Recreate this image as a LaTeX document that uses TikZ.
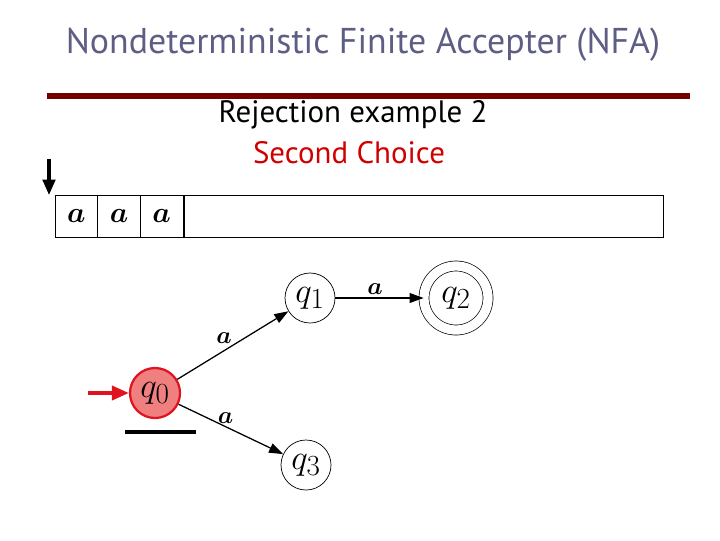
\documentclass[tikz,border=0pt]{standalone}
\usepackage{fontspec}
\usepackage{amsmath, amssymb}
\usepackage{bm}
\usetikzlibrary{arrows.meta, positioning, calc}
\newfontfamily\slidefont{PT Sans}
\definecolor{titlec}{HTML}{5E5E85}
\definecolor{rulec}{HTML}{750000}
\definecolor{choicec}{HTML}{D00000}
\definecolor{startc}{HTML}{F08080}
\definecolor{arrowc}{HTML}{E0141E}

\begin{document}
\begin{tikzpicture}[x=0.025cm, y=-0.025cm, >={Triangle[length=10pt, width=7pt]},
          state/.style={circle, draw, line width=0.5pt, inner sep=0pt,
            minimum size=1.25cm, font=\fontsize{30}{32}\selectfont},
          cell/.style={draw, line width=0.6pt, minimum height=1.05cm, inner sep=0pt,
            font=\fontsize{21}{22}\selectfont},
          edge/.style={->, line width=0.9pt},
          sym/.style={font=\fontsize{17}{17}\selectfont, inner sep=2pt}]
        \useasboundingbox (0,0) rectangle (720,540);
        % heading
        \node[titlec, font=\slidefont\fontsize{25.5}{28}\selectfont] (title) at (363,45)
          {Nondeterministic Finite Accepter (NFA)};
        \draw[rulec, line width=3.6pt] (47,96) -- (690,96);
        \node[font=\slidefont\fontsize{22}{24}\selectfont] (sub) at (353,115)
          {Rejection example 2};
        \node[choicec, font=\slidefont\fontsize{22}{24}\selectfont] (choice) at (349,153)
          {Second Choice};
        % input tape
        \foreach \i in {1,2,3}{
          \node[cell, minimum width=1.07cm] (c\i) at ({55+42.67*(\i-0.5)},216)
            {$\bm{a}$};
        }
        \node[cell, minimum width=11.98cm, anchor=west] (rest) at (c3.east) {};
        \coordinate (headtop) at (49,159);
        \coordinate (headtip) at (49,195);
        \draw[->, line width=2.2pt, >={Triangle[length=11pt, width=9pt]}]
          (headtop) -- (headtip);
        % automaton
        \node[state, fill=startc, draw=arrowc, line width=1.6pt] (q0) at (155,393) {$q_0$};
        \node[state] (q1) at (310,298) {$q_1$};
        \node[state, minimum size=1.6cm, double, double distance=6.6pt] (q2) at (456,298) {$q_2$};
        \node[state] (q3) at (306,465) {$q_3$};
        \coordinate (start) at (88,393);
        \draw[->, arrowc, line width=2.4pt, >={Triangle[length=12pt, width=10pt]}]
          (start) -- (q0);
        \draw[line width=3.4pt] (125,432) -- (196,432);
        \draw[edge] (q0) -- node[sym, above, pos=0.42, inner sep=5pt] {$\bm{a}$} (q1);
        \draw[edge] (q0) -- node[sym, above, pos=0.45] {$\bm{a}$} (q3);
        \draw[edge] (q1) -- node[sym, above, pos=0.45] {$\bm{a}$} (q2);
      \end{tikzpicture}
\end{document}
